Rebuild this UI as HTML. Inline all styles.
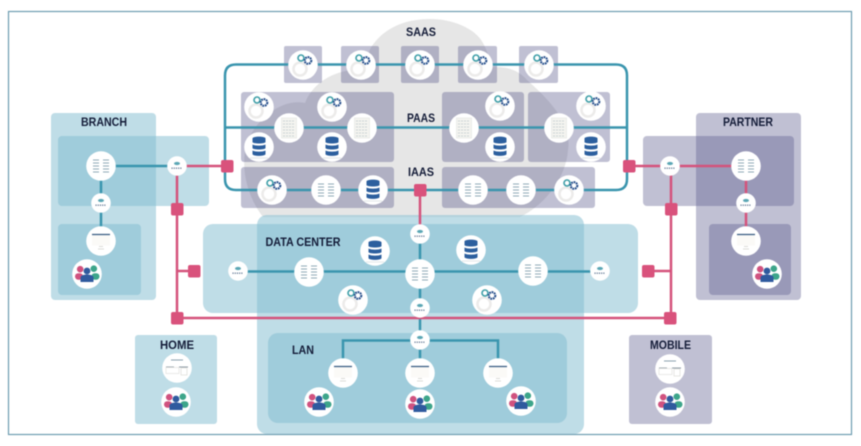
<!DOCTYPE html>
<html>
<head>
<meta charset="utf-8">
<style>
html,body{margin:0;padding:0;background:#fff;width:861px;height:446px;overflow:hidden}
svg{display:block;filter:blur(.5px)}
text{font-family:"Liberation Sans",sans-serif;font-weight:bold;font-size:12px;fill:#141c38}
</style>
</head>
<body>
<svg width="861" height="446" viewBox="0 0 861 446" xmlns="http://www.w3.org/2000/svg">
<defs>
<g id="gear"><circle r="14.8" fill="#fff"/><circle cx="-3" cy="4" r="6.500" fill="none" stroke="#ecebea" stroke-width="2.500"/>
<circle cx="-2" cy="-7" r="3" fill="#fff" stroke="#3f9fa8" stroke-width="1.600"/><circle cx="5" cy="-4.500" r="3.300" fill="#fff" stroke="#264f8c" stroke-width="2.100" stroke-dasharray="1.800 .7"/></g>
<g id="srv"><circle r="14.8" fill="#fff"/><g stroke="#8fa9b8" stroke-width="1"><path d="M-8-6h6M-8-3h6M-8 0h6M-8 3h6M-8 6h6M2-6h6M2-3h6M2 0h6M2 3h6M2 6h6"/></g></g>
<g id="tall"><circle r="14.8" fill="#fff"/><rect x="-7.500" y="-10" width="15" height="20" fill="#f4f4f0" stroke="#e2e4e2" stroke-width=".6"/><g stroke="#bcc9cc" stroke-width=".8" stroke-dasharray="2 1"><path d="M-6-7h12M-6-4h12M-6-1h12M-6 2h12M-6 5h12M-6 8h12"/></g></g>
<g id="db"><circle r="14.8" fill="#fff"/><g fill="#2c5f9e"><path d="M-6.500-8.500C-6.500-11 6.500-11 6.500-8.500V-5C6.500-3 -6.500-3 -6.500-5Z"/><path d="M-6.500-2.500C-4-1 4-1 6.500-2.500V1C6.500 3-6.500 3-6.500 1Z"/><path d="M-6.500 3.500C-4 5 4 5 6.500 3.500V7C6.500 9.500-6.500 9.500-6.500 7Z"/></g><path d="M-9 11h18" stroke="#d9dfe2" stroke-width=".7"/></g>
<g id="sw"><circle r="9.800" fill="#fff"/><ellipse cx="0" cy="-2.500" rx="3" ry="1.600" fill="#5ca7b5"/><path d="M-5.500 2.200h11" stroke="#5b7290" stroke-width="1.300" stroke-dasharray="1.100 1.100"/></g>
<g id="mon"><circle r="14.800" fill="#fff"/><path d="M-9-6.500h18" stroke="#35587f" stroke-width="1.300"/><rect x="-9" y="-5.500" width="18" height="10" fill="#fbfaf7"/><path d="M-3 8h6" stroke="#dcdcd8" stroke-width="1"/><path d="M-2 5.500h4" stroke="#d2d2ce" stroke-width=".8"/></g>
<g id="dev"><circle r="14.800" fill="#fff"/><path d="M-6-8h12" stroke="#8aa0ae" stroke-width="1"/><path d="M-11-1h8M2-1h9" stroke="#8c9aa5" stroke-width="1"/><rect x="-11" y="-.500" width="13" height="6" fill="none" stroke="#e2e2de" stroke-width=".7"/><rect x="4" y="0" width="6" height="7" fill="none" stroke="#dddcd8" stroke-width=".7"/></g>
<g id="ppl"><circle r="14.800" fill="#fff"/>
<circle cx="-6.800" cy="-4.800" r="3.300" fill="#d0527f"/><circle cx="6.800" cy="-5.300" r="3.300" fill="#3da58a"/>
<rect x="-12" y="-.800" width="8" height="6.500" rx="3.200" fill="#d0527f"/><rect x="4.500" y="-.800" width="8" height="6.500" rx="3.200" fill="#3da58a"/>
<circle cx="0" cy="-3" r="3.400" fill="#2f5a9e"/><path d="M-6.500 8V3.500C-6.500-.500 6.500-.500 6.500 3.500V8Z" fill="#2f5a9e"/></g>
</defs>

<rect x="8.500" y="11.500" width="843" height="423" fill="#fff" stroke="#6d9db1" stroke-width="1.200"/>

<!-- cloud -->
<path d="M263 217C246 195 240 165 247 143C256 118 283 98 305 103C312 84 335 66 370 70C366 58 368 50 375 42C388 26 408 19 430 19C452 19 475 28 483 43C488 52 490 60 490 67C510 66 520 72 527 80C552 102 572 125 568 150C566 178 545 205 520 217Z" fill="#e6e6e6"/>

<!-- SaaS/PaaS/IaaS panels -->
<g fill="#5a5a8c" fill-opacity=".38">
<rect x="284" y="46" width="38" height="37" rx="2"/><rect x="341" y="46" width="38" height="37" rx="2"/><rect x="401" y="46" width="38" height="37" rx="2"/><rect x="458" y="46" width="39" height="37" rx="2"/><rect x="519" y="46" width="39" height="37" rx="2"/>
<rect x="241" y="92" width="153" height="70" rx="3"/><rect x="442" y="92" width="82" height="70" rx="3"/><rect x="528" y="92" width="82" height="70" rx="3"/>
<rect x="241" y="167" width="153" height="41" rx="3"/><rect x="442" y="167" width="153" height="41" rx="3"/>
</g>

<!-- region panels -->
<g fill="#7fbccf" fill-opacity=".5">
<rect x="51" y="113" width="105" height="187" rx="4"/><rect x="58" y="136" width="151" height="70" rx="4"/><rect x="58" y="224" width="83" height="71" rx="4"/>
<rect x="203" y="224" width="435" height="89" rx="10"/><rect x="257" y="215" width="327" height="219" rx="10"/><rect x="268" y="333" width="299" height="90" rx="10"/>
<rect x="135" y="335" width="82" height="89" rx="3"/>
</g>
<g fill="#5a5a8c" fill-opacity=".38">
<rect x="696" y="113" width="105" height="187" rx="4"/><rect x="643" y="136" width="151" height="70" rx="4"/><rect x="709" y="224" width="82" height="71" rx="4"/>
<rect x="629" y="335" width="83" height="89" rx="3"/>
</g>

<!-- teal lines -->
<g fill="none" stroke="#3a95ae" stroke-width="2.500">
<path d="M303 64.500H236Q225 64.500 225 75.500V179Q225 190 236 190H616Q627 190 627 179V75.500Q627 64.500 616 64.500H539"/>
<path d="M303 64.500H539"/>
<path d="M225 127.500H627"/>
<path d="M101 166H177M101 166V241"/>
<path d="M238 271.500H600M420 234V340"/>
<path d="M343 373V340.500H498V373M420 340V373"/>
</g>
<!-- pink lines -->
<g fill="none" stroke="#d4537c" stroke-width="2.500">
<path d="M177 166H227M177 166V318H671V166M177 271H194M671 271H648M629 166H746V241M420 190V234"/>
</g>
<g fill="#d9527c">
<rect x="221" y="160" width="12.500" height="12.500" rx="2"/><rect x="414" y="184" width="12.500" height="12.500" rx="2"/><rect x="623" y="160" width="12.500" height="12.500" rx="2"/>
<rect x="171" y="203" width="12.500" height="12.500" rx="2"/><rect x="188" y="265" width="12.500" height="12.500" rx="2"/><rect x="171" y="312" width="12.500" height="12.500" rx="2"/>
<rect x="665" y="203" width="12.500" height="12.500" rx="2"/><rect x="642" y="265" width="12.500" height="12.500" rx="2"/><rect x="664" y="312" width="12.500" height="12.500" rx="2"/>
</g>

<!-- SaaS -->
<use href="#gear" x="303" y="65"/><use href="#gear" x="361" y="65"/><use href="#gear" x="420" y="65"/><use href="#gear" x="478" y="65"/><use href="#gear" x="539" y="65"/>
<!-- PaaS -->
<use href="#gear" x="259" y="107"/><use href="#tall" x="289" y="128"/><use href="#db" x="259" y="147"/><use href="#gear" x="332" y="107"/><use href="#tall" x="362" y="128"/><use href="#db" x="332" y="147"/>
<use href="#tall" x="464" y="128"/><use href="#gear" x="500" y="106"/><use href="#db" x="500" y="147"/><use href="#tall" x="559" y="128"/><use href="#gear" x="591" y="106"/><use href="#db" x="591" y="147"/>
<!-- IaaS -->
<use href="#gear" x="272" y="190"/><use href="#srv" x="326" y="190"/><use href="#db" x="373" y="190"/><use href="#srv" x="473" y="190"/><use href="#srv" x="521" y="190"/><use href="#gear" x="569" y="190"/>
<!-- Branch -->
<use href="#srv" x="101" y="166"/><use href="#sw" x="177" y="166"/><use href="#sw" x="101" y="203"/><use href="#mon" x="101" y="241"/><use href="#ppl" x="87" y="274"/>
<!-- Partner -->
<use href="#srv" x="746" y="166"/><use href="#sw" x="670" y="166"/><use href="#sw" x="746" y="203"/><use href="#mon" x="746" y="241"/><use href="#ppl" x="767" y="274"/>
<!-- Data center -->
<use href="#sw" x="238" y="271"/><use href="#srv" x="309" y="272"/><use href="#srv" x="420" y="274"/><use href="#srv" x="533" y="271"/><use href="#sw" x="600" y="271"/>
<use href="#db" x="375" y="251"/><use href="#db" x="471" y="250"/><use href="#gear" x="353" y="300"/><use href="#gear" x="487" y="300"/>
<use href="#sw" x="420" y="234"/><use href="#sw" x="420" y="308"/>
<!-- LAN -->
<use href="#sw" x="420" y="340"/><use href="#mon" x="343" y="373"/><use href="#mon" x="420" y="373"/><use href="#mon" x="498" y="373"/>
<use href="#ppl" x="319" y="402"/><use href="#ppl" x="420" y="404"/><use href="#ppl" x="521" y="401"/>
<!-- Home / mobile -->
<use href="#dev" x="177" y="368"/><use href="#ppl" x="176" y="402"/><use href="#dev" x="670" y="369"/><use href="#ppl" x="670" y="402"/>

<!-- labels -->
<text x="406" y="36" textLength="30" lengthAdjust="spacingAndGlyphs">SAAS</text>
<text x="407" y="122" textLength="28" lengthAdjust="spacingAndGlyphs">PAAS</text>
<text x="408" y="176" textLength="26" lengthAdjust="spacingAndGlyphs">IAAS</text>
<text x="81" y="126" textLength="46" lengthAdjust="spacingAndGlyphs">BRANCH</text>
<text x="723" y="126" textLength="50" lengthAdjust="spacingAndGlyphs">PARTNER</text>
<text x="265.500" y="246" textLength="75" lengthAdjust="spacingAndGlyphs">DATA CENTER</text>
<text x="292" y="354" textLength="22" lengthAdjust="spacingAndGlyphs">LAN</text>
<text x="160" y="349" textLength="34" lengthAdjust="spacingAndGlyphs">HOME</text>
<text x="650" y="349" textLength="41" lengthAdjust="spacingAndGlyphs">MOBILE</text>
</svg>
</body>
</html>
